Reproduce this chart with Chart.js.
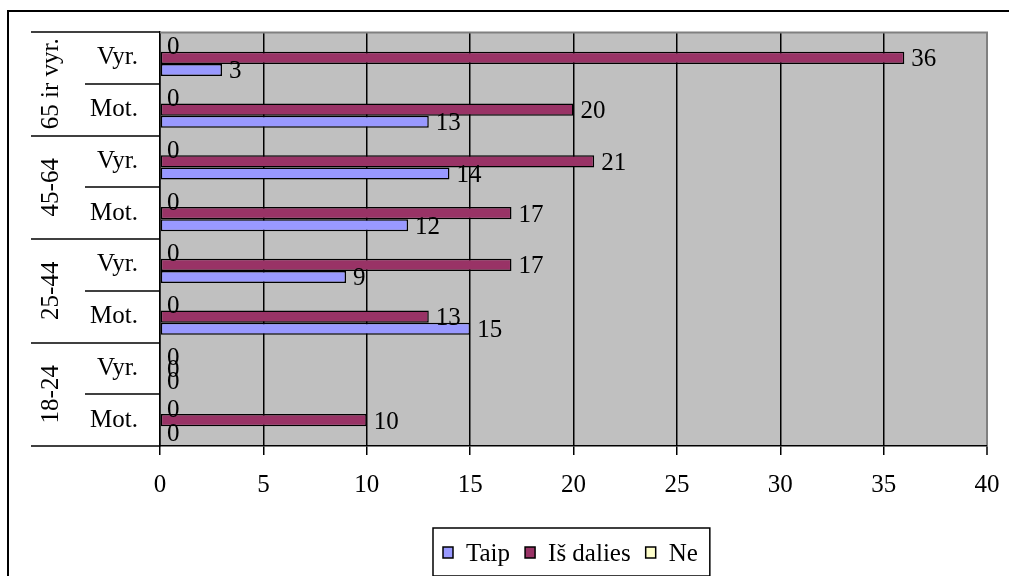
<!DOCTYPE html>
<html>
<head>
<meta charset="utf-8">
<script src="https://cdn.jsdelivr.net/npm/chart.js@4/dist/chart.umd.min.js"></script>
<style>
  html, body { margin: 0; padding: 0; background: #fff; }
  #wrap { width: 1009px; height: 576px; position: relative; }
</style>
</head>
<body>
<div id="wrap"><canvas id="c" width="1009" height="576"></canvas></div>
<script>
// Age groups (outer axis level) and gender rows (inner level), top to bottom
const ageGroups = ['65 ir vyr.', '45-64', '25-44', '18-24'];
const genders = ['Vyr.', 'Mot.'];
const categories = ageGroups.flatMap(() => genders);

// Answer counts per row
const taip      = [3, 13, 14, 12, 9, 15, 0, 0];
const isDalies  = [36, 20, 21, 17, 17, 13, 0, 10];
const ne        = [0, 0, 0, 0, 0, 0, 0, 0];

// Value axis
const xMin = 0, xMax = 40, xStep = 5;

const FONT = 'Liberation Serif, "Times New Roman", serif';
const FS = 25;

// Plot background + outer frame
const frame = {
  id: 'frame',
  beforeDraw(chart) {
    const { ctx, chartArea: a } = chart;
    ctx.save();
    ctx.fillStyle = '#fff';
    ctx.fillRect(0, 0, chart.width, chart.height);
    ctx.fillStyle = '#C0C0C0';
    ctx.fillRect(a.left, a.top, a.right - a.left, a.bottom - a.top);
    ctx.restore();
  },
  afterDraw(chart) {
    const { ctx, chartArea: a } = chart;
    ctx.save();
    // top edge of plot
    ctx.strokeStyle = '#808080';
    ctx.lineWidth = 2;
    ctx.beginPath();
    ctx.moveTo(a.left, a.top + 0.5);
    ctx.lineTo(a.right + 1, a.top + 0.5);
    ctx.stroke();
    // outer chart border
    ctx.strokeStyle = '#000';
    ctx.lineWidth = 2;
    ctx.beginPath();
    ctx.moveTo(8, chart.height + 2);
    ctx.lineTo(8, 11);
    ctx.lineTo(chart.width + 2, 11);
    ctx.stroke();
    ctx.restore();
  }
};

// Two-level category axis: divider lines and rotated age-group names
const groupAxis = {
  id: 'groupAxis',
  afterDraw(chart) {
    const { ctx, chartArea: a } = chart;
    const ys = chart.scales.y;
    const n = categories.length;
    const bounds = [];
    for (let i = 0; i <= n; i++) {
      if (i === 0) bounds.push(a.top);
      else if (i === n) bounds.push(a.bottom);
      else bounds.push((ys.getPixelForTick(i - 1) + ys.getPixelForTick(i)) / 2);
    }
    ctx.save();
    ctx.strokeStyle = '#000';
    ctx.lineWidth = 1.5;
    bounds.forEach((y, i) => {
      const x0 = (i % genders.length === 0) ? 31 : 85;
      ctx.beginPath();
      ctx.moveTo(x0, Math.round(y));
      ctx.lineTo(a.left, Math.round(y));
      ctx.stroke();
    });
    ctx.fillStyle = '#000';
    ctx.font = FS + 'px ' + FONT;
    ctx.textAlign = 'center';
    ctx.textBaseline = 'middle';
    ageGroups.forEach((g, gi) => {
      const yTop = bounds[gi * genders.length];
      const yBot = bounds[(gi + 1) * genders.length];
      ctx.save();
      ctx.translate(51, (yTop + yBot) / 2);
      ctx.rotate(-Math.PI / 2);
      ctx.fillText(g, 0, 0);
      ctx.restore();
    });
    ctx.restore();
  }
};

// Value labels at the end of each bar
const valueLabels = {
  id: 'valueLabels',
  afterDatasetsDraw(chart) {
    const { ctx } = chart;
    ctx.save();
    ctx.fillStyle = '#000';
    ctx.font = FS + 'px ' + FONT;
    ctx.textAlign = 'left';
    ctx.textBaseline = 'alphabetic';
    chart.data.datasets.forEach((ds, di) => {
      const meta = chart.getDatasetMeta(di);
      meta.data.forEach((el, i) => {
        ctx.fillText(String(ds.data[i]), el.x + 7, el.y + 8.5);
      });
    });
    ctx.restore();
  }
};

// Boxed legend below the axis
const boxLegend = {
  id: 'boxLegend',
  afterDraw(chart) {
    const { ctx } = chart;
    const items = chart.data.datasets.slice().reverse();
    ctx.save();
    ctx.font = FS + 'px ' + FONT;
    const sq = 10, gapSq = 13, gapItem = 15, padL = 10, padR = 12;
    let w = padL + padR;
    items.forEach((d, i) => {
      w += sq + gapSq + ctx.measureText(d.label).width + (i < items.length - 1 ? gapItem : 0);
    });
    const left = 433, top = 528, h = 48;
    ctx.fillStyle = '#fff';
    ctx.fillRect(left, top, w, h);
    ctx.strokeStyle = '#000';
    ctx.lineWidth = 1.5;
    ctx.strokeRect(left, top, w, h);
    let x = left + padL;
    const base = 561;
    items.forEach((d) => {
      ctx.fillStyle = d.backgroundColor;
      ctx.fillRect(x, 547, sq, 11);
      ctx.strokeStyle = '#000';
      ctx.lineWidth = 1.5;
      ctx.strokeRect(x, 547, sq, 11);
      x += sq + gapSq;
      ctx.fillStyle = '#000';
      ctx.textBaseline = 'alphabetic';
      ctx.fillText(d.label, x, base);
      x += ctx.measureText(d.label).width + gapItem;
    });
    ctx.restore();
  }
};

const zeroless = (ctx) => (ctx.raw === 0 ? 0 : 1.5);

new Chart(document.getElementById('c'), {
  type: 'bar',
  data: {
    labels: categories,
    datasets: [
      { label: 'Ne', data: ne, backgroundColor: '#FFFFCC', borderColor: '#000', borderWidth: zeroless, borderSkipped: false },
      { label: 'Iš dalies', data: isDalies, backgroundColor: '#993366', borderColor: '#000', borderWidth: zeroless, borderSkipped: false },
      { label: 'Taip', data: taip, backgroundColor: '#9999FF', borderColor: '#000', borderWidth: zeroless, borderSkipped: false }
    ]
  },
  options: {
    indexAxis: 'y',
    responsive: false,
    animation: false,
    devicePixelRatio: 1,
    layout: { padding: { top: 32, right: 22, left: 0, bottom: 0 } },
    datasets: { bar: { categoryPercentage: 0.7, barPercentage: 1.0 } },
    plugins: { legend: { display: false }, tooltip: { enabled: false } },
    scales: {
      x: {
        type: 'linear',
        min: xMin,
        max: xMax,
        ticks: { stepSize: xStep, color: '#000', font: { family: FONT, size: FS }, padding: 15, maxRotation: 0 },
        grid: {
          color: (c) => (c.tick && c.tick.value === xMax ? '#808080' : '#000'),
          lineWidth: (c) => (c.tick && c.tick.value === xMax ? 2 : 1.5),
          tickColor: '#000',
          tickWidth: 1.5,
          tickLength: 9,
          drawTicks: true
        },
        border: { display: true, color: '#000', width: 1.5 },
        afterFit: (s) => { s.height = 130; s.paddingLeft = 0; s.paddingRight = 0; }
      },
      y: {
        type: 'category',
        ticks: { color: '#000', font: { family: FONT, size: FS }, padding: 22 },
        grid: { display: false, drawTicks: false },
        border: { display: true, color: '#000', width: 1.5 },
        afterFit: (s) => { s.width = 160; s.paddingTop = 0; s.paddingBottom = 0; }
      }
    }
  },
  plugins: [frame, groupAxis, valueLabels, boxLegend]
});
</script>
</body>
</html>
